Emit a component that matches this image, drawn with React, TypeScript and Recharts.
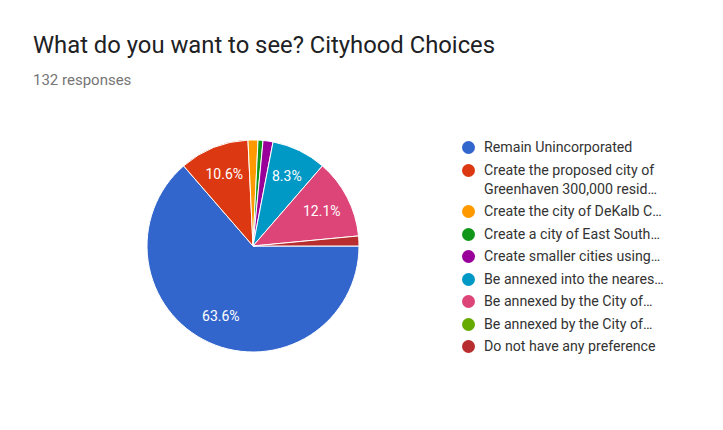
import React from "react";
import { Cell, Pie, PieChart } from "recharts";

const choices = [
  "Remain Unincorporated",
  "Create the proposed city of Greenhaven 300,000 resid…",
  "Create the city of DeKalb C…",
  "Create a city of East South…",
  "Create smaller cities using…",
  "Be annexed into the neares…",
  "Be annexed by the City of…",
  "Be annexed by the City of…",
  "Do not have any preference",
];
const responses = [84, 14, 2, 1, 2, 11, 16, 0, 2];
const colors = [
  "#3366cc",
  "#dc3912",
  "#ff9900",
  "#109618",
  "#990099",
  "#0099c6",
  "#dd4477",
  "#66aa00",
  "#b82e2e",
];

const data = choices.map((name, i) => ({ name, value: responses[i] }));

const RADIAN = Math.PI / 180;
const FONT = "Roboto, Arial, sans-serif";

const renderLabel = (props: any) => {
  const { cx, cy, midAngle, outerRadius, percent } = props;
  if (percent < 0.05) return null;
  const r = outerRadius * 0.73;
  const x = cx + r * Math.cos(-midAngle * RADIAN);
  const y = cy + r * Math.sin(-midAngle * RADIAN);
  return (
    <text
      x={x}
      y={y}
      fill="#ffffff"
      textAnchor="middle"
      dominantBaseline="central"
      fontFamily={FONT}
      fontSize={14}
    >
      {(percent * 100).toFixed(1)}%
    </text>
  );
};

const ChoiceLegend = () => (
  <div
    style={{
      position: "absolute",
      left: 462,
      top: 138,
      width: 240,
      fontFamily: FONT,
      fontSize: 14.2,
      color: "#333",
    }}
  >
    {data.map((d, i) => (
      <div
        key={i}
        style={{ display: "flex", alignItems: "flex-start", marginBottom: 3.5, lineHeight: "19px" }}
      >
        <span
          style={{
            width: 13,
            height: 13,
            borderRadius: "50%",
            background: colors[i],
            flex: "none",
            marginTop: 3,
            marginRight: 9,
          }}
        />
        <span style={{ width: 195 }}>{d.name}</span>
      </div>
    ))}
  </div>
);

export default function App() {
  return (
    <div style={{ position: "relative", width: 723, height: 430, margin: -8, background: "#fff" }}>
      <div
        style={{
          position: "absolute",
          left: 33,
          top: 31,
          fontFamily: FONT,
          fontSize: 23.8,
          color: "#202124",
          whiteSpace: "nowrap",
        }}
      >
        What do you want to see? Cityhood Choices
      </div>
      <div
        style={{
          position: "absolute",
          left: 33,
          top: 71,
          fontFamily: FONT,
          fontSize: 15,
          color: "#757575",
        }}
      >
        132 responses
      </div>
      <PieChart width={723} height={430} margin={{ top: 0, right: 0, bottom: 0, left: 0 }}>
        <Pie
          data={data}
          dataKey="value"
          nameKey="name"
          cx={253}
          cy={246}
          outerRadius={106}
          startAngle={0}
          endAngle={-360}
          stroke="#ffffff"
          strokeWidth={1}
          label={renderLabel}
          labelLine={false}
          isAnimationActive={false}
        >
          {data.map((d, i) => (
            <Cell key={i} fill={colors[i]} />
          ))}
        </Pie>
      </PieChart>
      <ChoiceLegend />
    </div>
  );
}
